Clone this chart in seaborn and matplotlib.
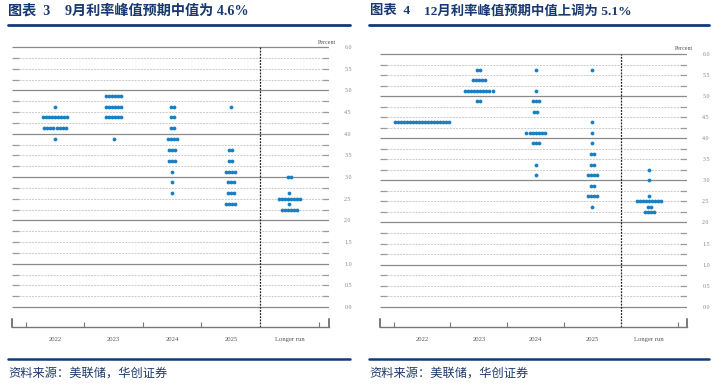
import numpy as np
import pandas as pd
import matplotlib
matplotlib.use("Agg")
import matplotlib.pyplot as plt
import seaborn as sns
from matplotlib.lines import Line2D

# ---------------- data ----------------
categories = ["2022", "2023", "2024", "2025", "Longer run"]
y_tick_values = [0.0, 0.5, 1.0, 1.5, 2.0, 2.5, 3.0, 3.5, 4.0, 4.5, 5.0, 5.5, 6.0]
y_tick_labels = ["0.0", "0.5", "1.0", "1.5", "2.0", "2.5", "3.0", "3.5", "4.0", "4.5", "5.0", "5.5", "6.0"]

# September 2022 projections (left panel)
sep_levels_2022 = [4.625, 4.375, 4.125, 3.875]
sep_counts_2022 = [1, 9, 8, 1]
sep_levels_2023 = [4.875, 4.625, 4.375, 3.875]
sep_counts_2023 = [6, 6, 6, 1]
sep_levels_2024 = [4.625, 4.375, 4.125, 3.875, 3.625, 3.375, 3.125, 2.875, 2.625]
sep_counts_2024 = [2, 2, 2, 4, 3, 3, 1, 1, 1]
sep_levels_2025 = [4.625, 3.625, 3.375, 3.125, 2.875, 2.625, 2.375]
sep_counts_2025 = [1, 2, 2, 4, 3, 3, 4]
sep_levels_lr = [3.0, 2.625, 2.5, 2.375, 2.25]
sep_counts_lr = [2, 1, 8, 1, 6]

# December 2022 projections (right panel)
dec_levels_2022 = [4.375]
dec_counts_2022 = [19]
dec_levels_2023 = [5.625, 5.375, 5.125, 4.875]
dec_counts_2023 = [2, 5, 10, 2]
dec_levels_2024 = [5.625, 5.125, 4.875, 4.625, 4.125, 3.875, 3.375, 3.125]
dec_counts_2024 = [1, 1, 3, 2, 7, 3, 1, 1]
dec_levels_2025 = [5.625, 4.375, 4.125, 3.875, 3.625, 3.375, 3.125, 2.875, 2.625, 2.375]
dec_counts_2025 = [1, 1, 1, 1, 2, 2, 4, 2, 4, 1]
dec_levels_lr = [3.25, 3.0, 2.625, 2.5, 2.375, 2.25]
dec_counts_lr = [1, 1, 1, 9, 2, 4]

title1_num = "图表  3"
title1_txt = "9月利率峰值预期中值为 4.6%"
title2_num = "图表  4"
title2_txt = "12月利率峰值预期中值上调为 5.1%"
source_txt = "资料来源：美联储，华创证券"

# ---------------- style ----------------
sns.set_theme(style="white")
plt.rcParams["font.family"] = ["Liberation Serif", "Noto Sans CJK SC", "DejaVu Sans"]

W, H = 716, 384
fig = plt.figure(figsize=(W / 100, H / 100), dpi=100)

DOT = "#1a7fc0"
NAVY = "#17396f"
GRID_SOLID = "#8a8a8a"
GRID_DASH = "#cacaca"
STUB = "#9a9a9a"


def fx(px):
    return px / W


def fy(py):
    return 1 - py / H


def make_panel(rect_px, xlim, ylim, levels, counts, percent_xy):
    left, right, top, bottom = rect_px
    ax = fig.add_axes([fx(left), fy(bottom), (right - left) / W, (bottom - top) / H])
    ax.set_xlim(*xlim)
    ax.set_ylim(*ylim)
    ppu_x = (right - left) / (xlim[1] - xlim[0])
    ppu_y = (bottom - top) / (ylim[1] - ylim[0])
    spacing = 3.05 / ppu_x

    rows = []
    for i, (lv, ct) in enumerate(zip(levels, counts)):
        for level, n in zip(lv, ct):
            offs = (np.arange(n) - (n - 1) / 2) * spacing
            for o in offs:
                rows.append({"pos": i + o, "rate": level})
    df = pd.DataFrame(rows)

    # grid lines
    x0, x1 = xlim
    stub = 7 / ppu_x
    for k in range(0, 25):
        v = k * 0.25
        if k % 4 == 0:
            ax.hlines(v, x0, x1, color=GRID_SOLID, lw=0.9, zorder=1)
        else:
            ax.hlines(v, x0, x0 + stub, color=STUB, lw=0.9, zorder=1)
            ax.hlines(v, x1 - stub, x1, color=STUB, lw=0.9, zorder=1)
            ax.hlines(v, x0 + stub, x1 - stub, color=GRID_DASH, lw=0.7,
                      linestyles=(0, (2, 1.2)), zorder=1)

    # separator before longer run
    ax.vlines(3.5, ylim[0], 6.0, color="#222222", lw=0.9,
              linestyles=(0, (1.5, 1.0)), zorder=2)

    sns.scatterplot(data=df, x="pos", y="rate", ax=ax, color=DOT, s=7.5,
                    linewidth=0, legend=False, zorder=3)

    # axes styling
    ax.spines["top"].set_visible(False)
    ax.spines["bottom"].set_color("#777777")
    ax.spines["bottom"].set_linewidth(1.0)
    for sp in ["left", "right"]:
        ax.spines[sp].set_color("#555555")
        ax.spines[sp].set_linewidth(1.1)
        ax.spines[sp].set_bounds(ylim[0], ylim[0] + 8 / ppu_y)

    ax.set_xticks([-0.5, 0.5, 1.5, 2.5, 4.5])
    ax.set_xticklabels([])
    ax.set_xticks(range(len(categories)), minor=True)
    ax.set_xticklabels(categories, minor=True)
    ax.tick_params(axis="x", which="major", direction="in", length=3.5,
                   width=0.8, color="#777777", bottom=True)
    ax.tick_params(axis="x", which="minor", length=0, pad=7, labelsize=4.8,
                   labelcolor="#555555", bottom=True)

    ax.yaxis.tick_right()
    ax.set_yticks(y_tick_values)
    ax.set_yticklabels(y_tick_labels)
    ax.tick_params(axis="y", length=0, pad=11, labelsize=4.3, labelcolor="#888888")
    ax.set_xlabel("")
    ax.set_ylabel("")
    ax.grid(False)

    fig.text(fx(percent_xy[0]), fy(percent_xy[1]), "Percent", fontsize=4.3,
             color="#555555", ha="center", va="center")
    return ax


make_panel((12, 329, 40, 327), (-0.734, 4.676), (-0.46, 6.162),
           [sep_levels_2022, sep_levels_2023, sep_levels_2024, sep_levels_2025, sep_levels_lr],
           [sep_counts_2022, sep_counts_2023, sep_counts_2024, sep_counts_2025, sep_counts_lr],
           (327, 42))
make_panel((380, 687, 47, 327), (-0.739, 4.665), (-0.482, 6.166),
           [dec_levels_2022, dec_levels_2023, dec_levels_2024, dec_levels_2025, dec_levels_lr],
           [dec_counts_2022, dec_counts_2023, dec_counts_2024, dec_counts_2025, dec_counts_lr],
           (684, 49))

# titles
for x_num, x_txt, num, txt, size, lx0, lx1 in [
    (8, 65, title1_num, title1_txt, 10.2, 8, 350),
    (370, 424, title2_num, title2_txt, 9.6, 369, 709),
]:
    fig.text(fx(x_num), fy(11), num, fontsize=size, fontweight="bold", color=NAVY,
             ha="left", va="center")
    fig.text(fx(x_txt), fy(11), txt, fontsize=size, fontweight="bold", color=NAVY,
             ha="left", va="center")
    fig.add_artist(Line2D([fx(lx0), fx(lx1)], [fy(24.5), fy(24.5)], color="#0f3b7a",
                          lw=2.0, transform=fig.transFigure))
    fig.add_artist(Line2D([fx(lx0), fx(lx1)], [fy(359), fy(359)], color="#0f3b7a",
                          lw=1.8, transform=fig.transFigure))
    fig.text(fx(lx0), fy(373), source_txt, fontsize=8.8, color="#1f3a68",
             ha="left", va="center",
             family=["Noto Sans CJK SC", "DejaVu Sans"])

fig.savefig("out.png", dpi=100)
